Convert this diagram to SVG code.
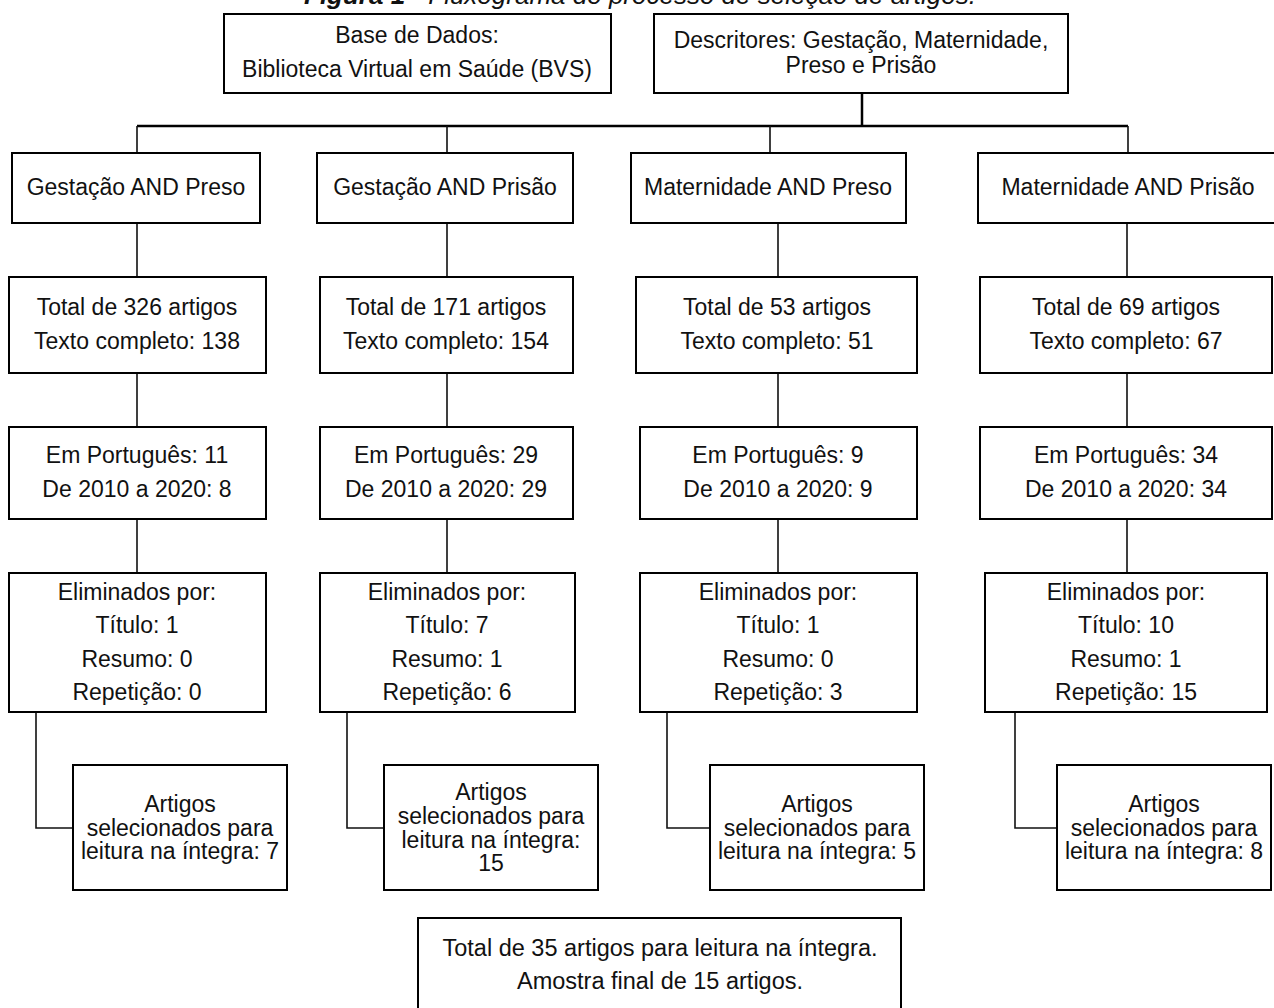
<svg xmlns="http://www.w3.org/2000/svg" width="1274" height="1008" viewBox="0 0 1274 1008">
<style>
.box{fill:#fff;stroke:#000;stroke-width:2}
.t{font-family:"Liberation Sans",Arial,sans-serif;fill:#111;text-anchor:middle}
.top{font-size:23px}
.r{font-size:23px}
.b{font-size:23.5px}
.s{font-size:23px}
.ttl{font-family:"Liberation Sans",Arial,sans-serif;font-size:26px;fill:#111;text-anchor:middle;font-style:italic}
.c{fill:none;stroke:#111;stroke-width:1.6}
.bus{fill:none;stroke:#000;stroke-width:2.5}
</style>
<rect width="1274" height="1008" fill="#fff"/>
<text class="ttl" x="640" y="4"><tspan font-weight="bold">Figura 1</tspan> - Fluxograma do processo de seleção de artigos.</text>

<g id="connectors">
<path class="bus" d="M862 93V126M137 126H1128"/>
<path class="c" d="M137 126V153M447 126V153M770 126V153M1128 126V153"/>
<path class="c" d="M137 223V277M447 223V277M778 223V277M1127 223V277"/>
<path class="c" d="M137 373V427M447 373V427M778 373V427M1127 373V427"/>
<path class="c" d="M137 519V573M447 519V573M778 519V573M1127 519V573"/>
<path class="c" d="M36 712V828H73M347 712V828H384M667 712V828H710M1015 712V828H1057"/>
</g>

<g id="n-base"><rect class="box" x="224" y="14" width="387" height="79"/>
<text class="t top" x="417" y="43">Base de Dados:</text>
<text class="t top" x="417" y="77">Biblioteca Virtual em Saúde (BVS)</text></g>
<g id="n-descritores"><rect class="box" x="654" y="14" width="414" height="79"/>
<text class="t top" x="861" y="48">Descritores: Gestação, Maternidade,</text>
<text class="t top" x="861" y="73">Preso e Prisão</text></g>

<g id="n-gp"><rect class="box" x="12" y="153" width="248" height="70"/><text class="t r" x="136" y="195">Gestação AND Preso</text></g>
<g id="n-gpr"><rect class="box" x="317" y="153" width="256" height="70"/><text class="t r" x="445" y="195">Gestação AND Prisão</text></g>
<g id="n-mp"><rect class="box" x="631" y="153" width="275" height="70"/><text class="t r" x="768" y="195">Maternidade AND Preso</text></g>
<g id="n-mpr"><rect class="box" x="978" y="153" width="300" height="70"/><text class="t r" x="1128" y="195">Maternidade AND Prisão</text></g>

<g id="n-tot1"><rect class="box" x="9" y="277" width="257" height="96"/><text class="t r" x="137" y="315">Total de 326 artigos</text><text class="t r" x="137" y="349">Texto completo: 138</text></g>
<g id="n-tot2"><rect class="box" x="320" y="277" width="253" height="96"/><text class="t r" x="446" y="315">Total de 171 artigos</text><text class="t r" x="446" y="349">Texto completo: 154</text></g>
<g id="n-tot3"><rect class="box" x="636" y="277" width="281" height="96"/><text class="t r" x="777" y="315">Total de 53 artigos</text><text class="t r" x="777" y="349">Texto completo: 51</text></g>
<g id="n-tot4"><rect class="box" x="980" y="277" width="292" height="96"/><text class="t r" x="1126" y="315">Total de 69 artigos</text><text class="t r" x="1126" y="349">Texto completo: 67</text></g>

<g id="n-pt1"><rect class="box" x="9" y="427" width="257" height="92"/><text class="t r" x="137" y="463">Em Português: 11</text><text class="t r" x="137" y="497">De 2010 a 2020: 8</text></g>
<g id="n-pt2"><rect class="box" x="320" y="427" width="253" height="92"/><text class="t r" x="446" y="463">Em Português: 29</text><text class="t r" x="446" y="497">De 2010 a 2020: 29</text></g>
<g id="n-pt3"><rect class="box" x="640" y="427" width="277" height="92"/><text class="t r" x="778" y="463">Em Português: 9</text><text class="t r" x="778" y="497">De 2010 a 2020: 9</text></g>
<g id="n-pt4"><rect class="box" x="980" y="427" width="292" height="92"/><text class="t r" x="1126" y="463">Em Português: 34</text><text class="t r" x="1126" y="497">De 2010 a 2020: 34</text></g>

<g id="n-el1"><rect class="box" x="9" y="573" width="257" height="139"/><text class="t r" x="137" y="600">Eliminados por:</text><text class="t r" x="137" y="633">Título: 1</text><text class="t r" x="137" y="667">Resumo: 0</text><text class="t r" x="137" y="700">Repetição: 0</text></g>
<g id="n-el2"><rect class="box" x="320" y="573" width="255" height="139"/><text class="t r" x="447" y="600">Eliminados por:</text><text class="t r" x="447" y="633">Título: 7</text><text class="t r" x="447" y="667">Resumo: 1</text><text class="t r" x="447" y="700">Repetição: 6</text></g>
<g id="n-el3"><rect class="box" x="640" y="573" width="277" height="139"/><text class="t r" x="778" y="600">Eliminados por:</text><text class="t r" x="778" y="633">Título: 1</text><text class="t r" x="778" y="667">Resumo: 0</text><text class="t r" x="778" y="700">Repetição: 3</text></g>
<g id="n-el4"><rect class="box" x="985" y="573" width="282" height="139"/><text class="t r" x="1126" y="600">Eliminados por:</text><text class="t r" x="1126" y="633">Título: 10</text><text class="t r" x="1126" y="667">Resumo: 1</text><text class="t r" x="1126" y="700">Repetição: 15</text></g>

<g id="n-sel1"><rect class="box" x="73" y="765" width="214" height="125"/><text class="t s" x="180" y="812">Artigos</text><text class="t s" x="180" y="836">selecionados para</text><text class="t s" x="180" y="859">leitura na íntegra: 7</text></g>
<g id="n-sel2"><rect class="box" x="384" y="765" width="214" height="125"/><text class="t s" x="491" y="800">Artigos</text><text class="t s" x="491" y="824">selecionados para</text><text class="t s" x="491" y="848">leitura na íntegra:</text><text class="t s" x="491" y="871">15</text></g>
<g id="n-sel3"><rect class="box" x="710" y="765" width="214" height="125"/><text class="t s" x="817" y="812">Artigos</text><text class="t s" x="817" y="836">selecionados para</text><text class="t s" x="817" y="859">leitura na íntegra: 5</text></g>
<g id="n-sel4"><rect class="box" x="1057" y="765" width="214" height="125"/><text class="t s" x="1164" y="812">Artigos</text><text class="t s" x="1164" y="836">selecionados para</text><text class="t s" x="1164" y="859">leitura na íntegra: 8</text></g>

<g id="n-final"><rect class="box" x="418" y="918" width="483" height="100"/><text class="t b" x="660" y="956">Total de 35 artigos para leitura na íntegra.</text><text class="t b" x="660" y="989">Amostra final de 15 artigos.</text></g>
</svg>
